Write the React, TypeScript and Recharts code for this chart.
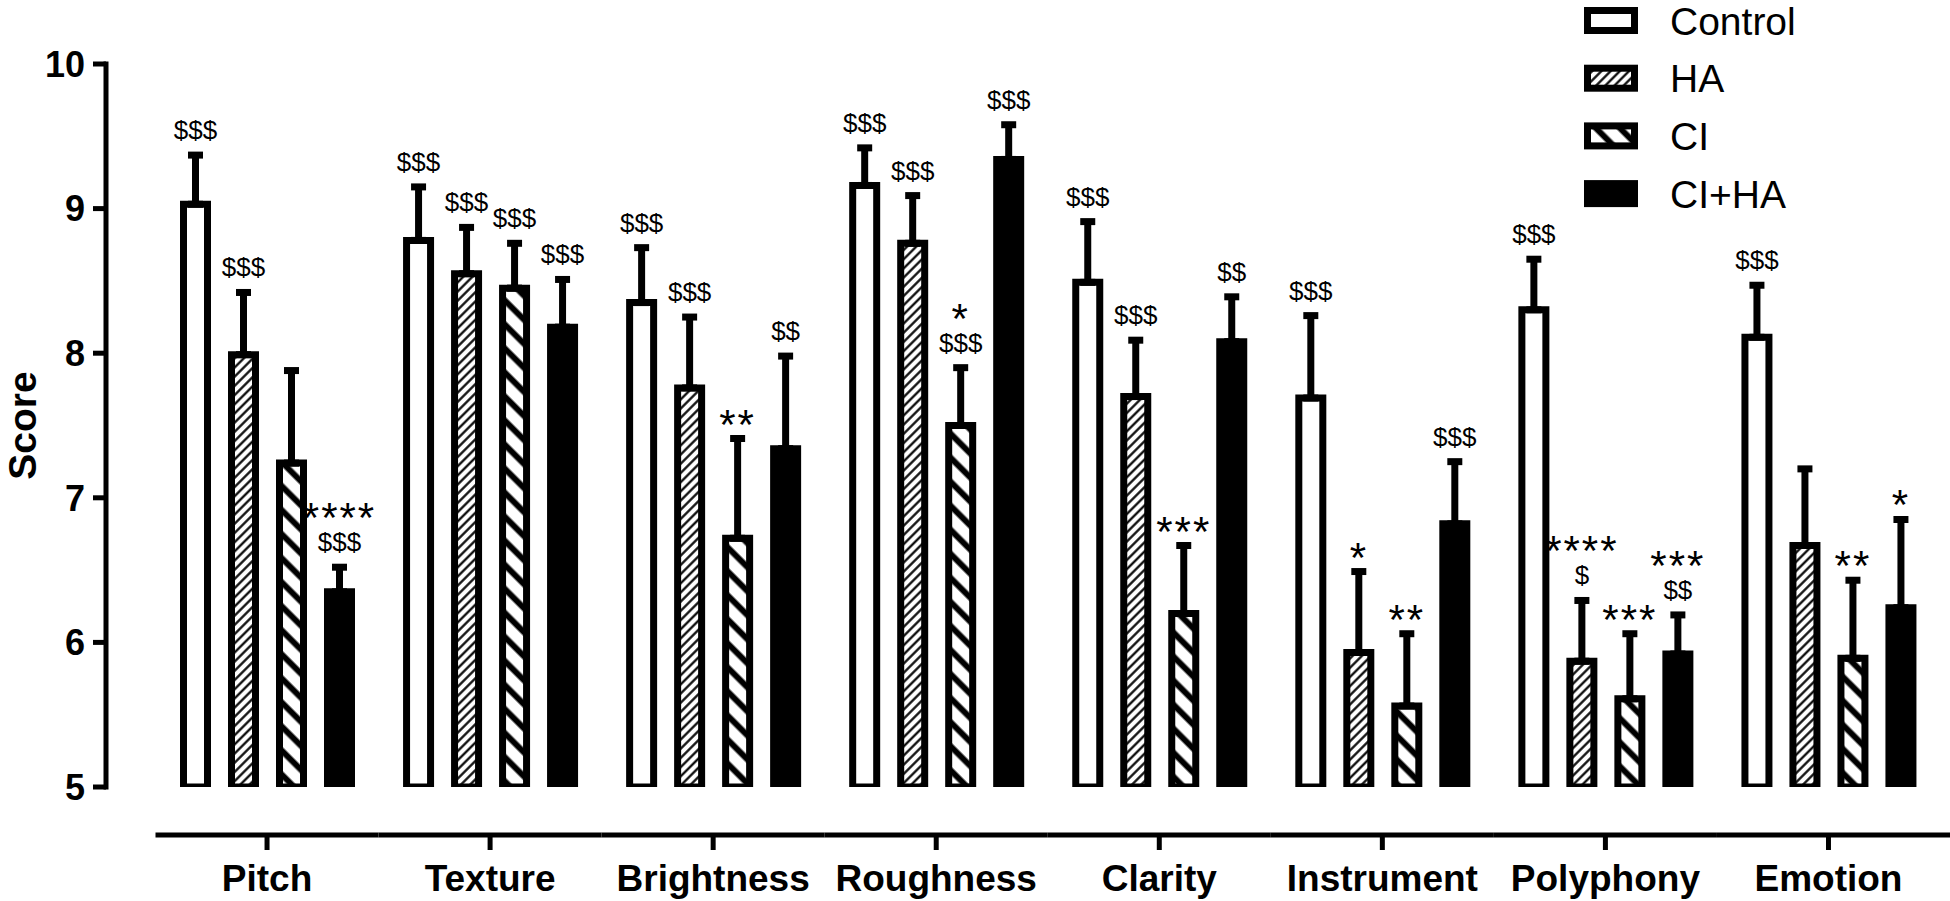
import React from 'react';
import { BarChart, Bar, XAxis, YAxis, ErrorBar, LabelList, Legend } from 'recharts';

const categories = ['Pitch', 'Texture', 'Brightness', 'Roughness', 'Clarity', 'Instrument', 'Polyphony', 'Emotion'];

const controlMean = [9.03, 8.78, 8.35, 9.16, 8.49, 7.69, 8.3, 8.11];
const controlSem = [0.34, 0.37, 0.38, 0.26, 0.42, 0.57, 0.35, 0.36];
const haMean = [7.99, 8.55, 7.76, 8.76, 7.7, 5.93, 5.87, 6.67];
const haSem = [0.43, 0.32, 0.49, 0.33, 0.39, 0.56, 0.42, 0.53];
const ciMean = [7.24, 8.45, 6.72, 7.5, 6.2, 5.56, 5.61, 5.89];
const ciSem = [0.64, 0.31, 0.69, 0.4, 0.47, 0.5, 0.45, 0.54];
const ciHaMean = [6.35, 8.18, 7.34, 9.34, 8.08, 6.82, 5.92, 6.24];
const ciHaSem = [0.17, 0.33, 0.64, 0.24, 0.31, 0.43, 0.27, 0.61];

// significance marks, '\n' splits the asterisk line from the dollar line
const controlNotes = ['$$$', '$$$', '$$$', '$$$', '$$$', '$$$', '$$$', '$$$'];
const haNotes = ['$$$', '$$$', '$$$', '$$$', '$$$', '*', '****\n$', ''];
const ciNotes = ['', '$$$', '**', '*\n$$$', '***', '**', '***', '**'];
const ciHaNotes = ['****\n$$$', '$$$', '$$', '$$$', '$$', '$$$', '***\n$$', '*'];

const yTicks = [5, 6, 7, 8, 9, 10];

const FONT = '"Liberation Sans", Arial, sans-serif';
const W = 1950;
const H = 901;
const TOP = 64;
const RIGHT = 10;
const Y_AXIS_W = 106;
const X_AXIS_H = 114;
const X_PAD_LEFT = 49.5;
const Y_MIN = 5;
const Y_MAX = 10;
const PLOT_H = H - TOP - X_AXIS_H;
const PX_PER_UNIT = PLOT_H / (Y_MAX - Y_MIN);
const BAND_W = (W - RIGHT - Y_AXIS_W - X_PAD_LEFT) / categories.length;
const X_AXIS_DROP = 48;

const series = [
  { key: 'control', name: 'Control', fill: '#fff', mean: controlMean, sem: controlSem, notes: controlNotes },
  { key: 'ha', name: 'HA', fill: 'url(#hatch-ha)', mean: haMean, sem: haSem, notes: haNotes },
  { key: 'ci', name: 'CI', fill: 'url(#hatch-ci)', mean: ciMean, sem: ciSem, notes: ciNotes },
  { key: 'ciha', name: 'CI+HA', fill: '#000', mean: ciHaMean, sem: ciHaSem, notes: ciHaNotes },
];

const data = categories.map((name, i) => {
  const row: Record<string, unknown> = { name };
  series.forEach((s) => {
    row[s.key] = s.mean[i];
    row[`${s.key}Err`] = [0, s.sem[i]];
    row[`${s.key}Note`] = s.notes[i];
  });
  return row;
});

function PatternDefs({ prefix }: { prefix: string }) {
  return (
    <defs>
      <pattern id={`${prefix}-ha`} patternUnits="userSpaceOnUse" width={6.5} height={6.5} patternTransform="rotate(45)">
        <rect width={6.5} height={6.5} fill="#fff" />
        <line x1={3.25} y1={0} x2={3.25} y2={6.5} stroke="#000" strokeWidth={2.2} />
      </pattern>
      <pattern id={`${prefix}-ci`} patternUnits="userSpaceOnUse" width={17} height={17} patternTransform="rotate(-45)">
        <rect width={17} height={17} fill="#fff" />
        <line x1={8.5} y1={0} x2={8.5} y2={17} stroke="#000" strokeWidth={6} />
      </pattern>
    </defs>
  );
}

function noteRenderer(sem: number[], notes: string[]) {
  return (props: any) => {
    const vb = props.viewBox ?? props;
    const bx = vb.x ?? props.x;
    const bw = vb.width ?? props.width;
    const by = vb.y ?? props.y;
    const idx = props.index;
    const text: string = (idx != null ? notes[idx] : props.value) ?? '';
    if (!text || bx == null) return null;
    const cx = bx + bw / 2;
    const capY = by - sem[idx] * PX_PER_UNIT;
    const lines = text.split('\n');
    if (lines.length === 2) {
      // stars above dollars, one text element with two lines
      return (
        <text x={cx} y={capY - 35} textAnchor="middle" fontFamily={FONT} fill="#000">
          <tspan fontSize={42} letterSpacing={2}>
            {lines[0]}
          </tspan>
          <tspan x={cx} y={capY - 16} fontSize={26} letterSpacing={0}>
            {lines[1]}
          </tspan>
        </text>
      );
    }
    if (text.startsWith('*')) {
      return (
        <text x={cx} y={capY} textAnchor="middle" fontSize={42} letterSpacing={2} fontFamily={FONT} fill="#000">
          {text}
        </text>
      );
    }
    return (
      <text x={cx} y={capY - 16} textAnchor="middle" fontSize={26} fontFamily={FONT} fill="#000">
        {text}
      </text>
    );
  };
}

function CategoryTick(props: any) {
  const { x, y, payload, index } = props;
  const lineY = y + X_AXIS_DROP;
  const last = index === categories.length - 1;
  return (
    <g>
      <line x1={x - BAND_W / 2} x2={x + BAND_W / 2 + (last ? RIGHT : 0)} y1={lineY} y2={lineY} stroke="#000" strokeWidth={5} />
      <line x1={x} x2={x} y1={lineY} y2={lineY + 15} stroke="#000" strokeWidth={5} />
      <text x={x} y={lineY + 56} textAnchor="middle" fontSize={37} fontWeight="bold" fontFamily={FONT} fill="#000">
        {payload.value}
      </text>
    </g>
  );
}

function LegendBox() {
  const rowH = 57.7;
  return (
    <svg width={374} height={224} style={{ display: 'block' }}>
      <PatternDefs prefix="lg" />
      {series.map((s, i) => (
        <g key={s.key}>
          <rect
            x={11.5}
            y={10.5 + i * rowH}
            width={47}
            height={20}
            fill={s.fill.replace('hatch', 'lg')}
            stroke="#000"
            strokeWidth={7}
          />
          <text x={94} y={20.5 + i * rowH + 14} fontSize={39} fontFamily={FONT} fill="#000">
            {s.name}
          </text>
        </g>
      ))}
    </svg>
  );
}

export default function App() {
  return (
    <div style={{ position: 'absolute', left: 0, top: 0, width: W, height: H, background: '#fff' }}>
      <BarChart
        width={W}
        height={H}
        data={data}
        margin={{ top: TOP, right: RIGHT, bottom: 0, left: 0 }}
        barSize={24}
        barGap={24}
      >
        <PatternDefs prefix="hatch" />
        <XAxis
          dataKey="name"
          height={X_AXIS_H}
          padding={{ left: X_PAD_LEFT, right: 0 }}
          axisLine={false}
          tickLine={false}
          tickSize={0}
          tickMargin={0}
          interval={0}
          tick={<CategoryTick />}
        />
        <YAxis
          type="number"
          domain={[Y_MIN, Y_MAX]}
          ticks={yTicks}
          width={Y_AXIS_W}
          allowDataOverflow
          axisLine={{ stroke: '#000', strokeWidth: 5, strokeLinecap: 'square' }}
          tickLine={{ stroke: '#000', strokeWidth: 5 }}
          tickSize={13}
          tickMargin={8}
          tick={{ fill: '#000', fontSize: 36, fontWeight: 700, fontFamily: FONT }}
          label={{
            value: 'Score',
            angle: -90,
            position: 'center',
            dx: -31,
            fill: '#000',
            fontSize: 39,
            fontWeight: 700,
            fontFamily: FONT,
          }}
        />
        <Legend
          layout="vertical"
          align="center"
          verticalAlign="middle"
          wrapperStyle={{ left: 1576, top: 0, width: 374, height: 224 }}
          content={() => <LegendBox />}
        />
        {series.map((s) => (
          <Bar
            key={s.key}
            dataKey={s.key}
            name={s.name}
            fill={s.fill}
            stroke="#000"
            strokeWidth={7}
            isAnimationActive={false}
          >
            <ErrorBar
              dataKey={`${s.key}Err`}
              direction="y"
              width={7.5}
              stroke="#000"
              strokeWidth={7}
              isAnimationActive={false}
            />
            <LabelList dataKey={`${s.key}Note`} content={noteRenderer(s.sem, s.notes)} />
          </Bar>
        ))}
      </BarChart>
    </div>
  );
}
